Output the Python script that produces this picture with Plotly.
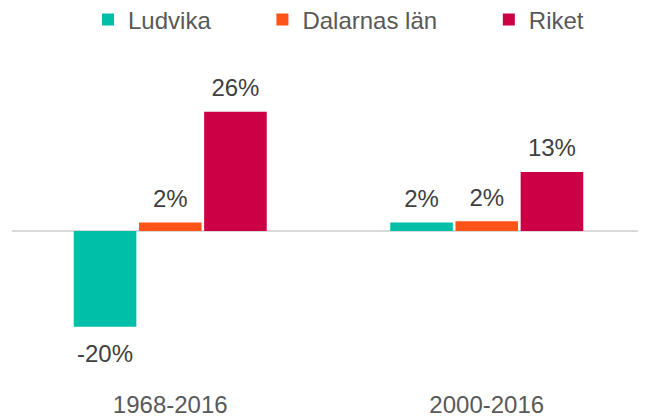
import plotly.graph_objects as go

# ---- data ----
periods = ["1968-2016", "2000-2016"]
series_names = ["Ludvika", "Dalarnas län", "Riket"]
ludvika = [-20.47, 1.80]
dalarna = [1.80, 2.07]
riket = [25.52, 12.60]
series_values = [ludvika, dalarna, riket]
colors = ["#00BFA8", "#FF5419", "#CC0044"]

FONT = "Liberation Sans, Arial, sans-serif"
fig = go.Figure()

for name, vals, col in zip(series_names, series_values, colors):
    fig.add_trace(go.Bar(
        x=periods, y=vals, name=name + "\u00a0" * 7,
        marker=dict(color=col, line=dict(width=0)),
        hoverinfo="skip",
    ))

for name, vals in zip(series_names, series_values):
    fig.add_trace(go.Scatter(
        x=periods, y=vals, mode="markers+text",
        marker=dict(size=[14 if v >= 0 else 25.6 for v in vals], opacity=0),
        texttemplate="%{y:.0f}%",
        textposition=["top center" if v >= 0 else "bottom center" for v in vals],
        textfont=dict(family=FONT, size=24, color="#404040"),
        showlegend=False, hoverinfo="skip", cliponaxis=False,
    ))

fig.update_layout(
    width=638, height=410,
    margin=dict(l=4, r=1, t=52, b=30),
    paper_bgcolor="white", plot_bgcolor="white",
    barmode="group", bargap=0.382, bargroupgap=0.04,
    scattermode="group", scattergap=0.382,
    font=dict(family=FONT, size=24, color="#595959"),
    legend=dict(
        orientation="h", xref="container", yref="container",
        x=80 / 638, y=1 - 12 / 410, xanchor="left", yanchor="middle",
        font=dict(family=FONT, size=24, color="#595959"),
        itemwidth=30, bgcolor="rgba(0,0,0,0)",
    ),
    xaxis=dict(type="category", showgrid=False, showline=False, ticks="",
               automargin=False,
               tickfont=dict(family=FONT, size=24, color="#595959")),
    yaxis=dict(range=[-33.58, 36.58], showgrid=False, showticklabels=False,
               automargin=False,
               zeroline=True, zerolinecolor="#D9D9D9", zerolinewidth=2),
)

fig.write_html("out.html")
